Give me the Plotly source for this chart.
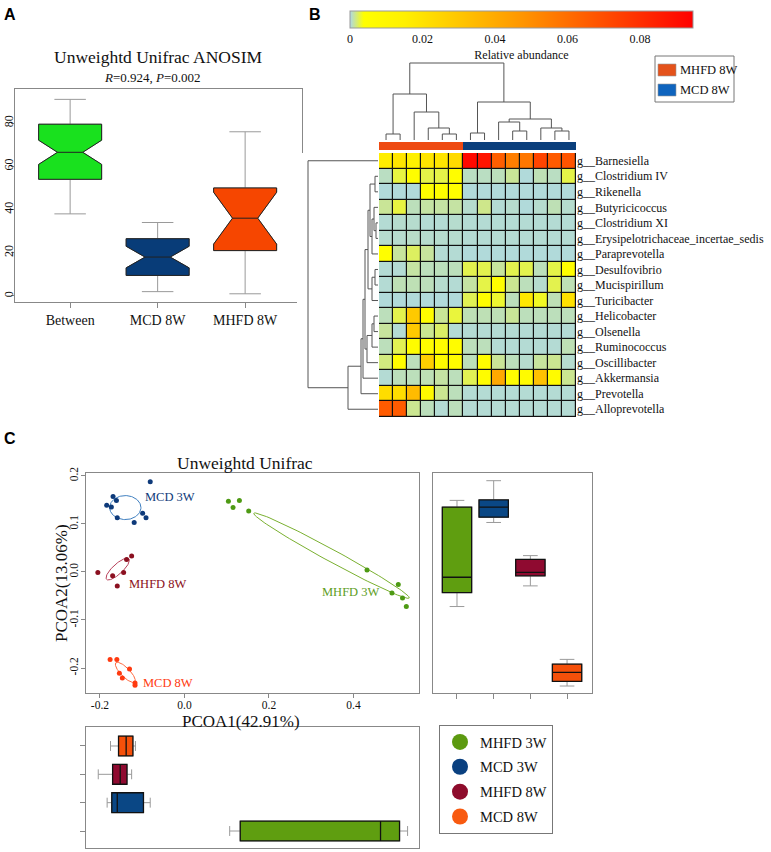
import numpy as np
import plotly.graph_objects as go

W, H = 771, 852
SERIF = "Liberation Serif"
SANS = "Liberation Sans"


def fx(px):
    return px / W


def fy(py):
    return 1 - py / H


# ---------------- Panel A data ----------------
anosim_groups = ["Between", "MCD 8W", "MHFD 8W"]
anosim_low = [38, 2, 1]
anosim_q1 = [54, 9.5, 21]
anosim_med = [66.5, 18, 36]
anosim_q3 = [79.5, 26.5, 50]
anosim_high = [91, 34, 76]
anosim_notch = [5.6, 5.0, 12.0]
anosim_colors = ["#19E11E", "#083C78", "#F64600"]

# ---------------- Panel B data ----------------
genera = ["g__Barnesiella", "g__Clostridium IV", "g__Rikenella", "g__Butyricicoccus",
          "g__Clostridium XI", "g__Erysipelotrichaceae_incertae_sedis", "g__Paraprevotella",
          "g__Desulfovibrio", "g__Mucispirillum", "g__Turicibacter", "g__Helicobacter",
          "g__Olsenella", "g__Ruminococcus", "g__Oscillibacter", "g__Akkermansia",
          "g__Prevotella", "g__Alloprevotella"]
sample_groups = ["MHFD 8W"] * 6 + ["MCD 8W"] * 8
heat_legend = ["MHFD 8W", "MCD 8W"]
barnesiella = [0.016, 0.019, 0.015, 0.019, 0.019, 0.023, 0.092, 0.088, 0.065, 0.055, 0.057, 0.073, 0.066, 0.068]
clostridium_iv = [0.0006, 0.0027, 0.005, 0.0026, 0.0026, 0.005, 0.0006, 0.0006, 0.0007, 0.0013, 0.0002, 0.0008, 0.0006, 0.0026]
rikenella = [0.0002, 0.0002, 0.0002, 0.005, 0.005, 0.005, 0.0002, 0.0002, 0.0002, 0.0002, 0.0002, 0.0002, 0.0002, 0.0002]
butyricicoccus = [0.0013, 0.0027, 0.0007, 0.0011, 0.0011, 0.0011, 0.0004, 0.0015, 0.0003, 0.0004, 0.0002, 0.0004, 0.0008, 0.0004]
clostridium_xi = [0.0003, 0.0004, 0.0004, 0.0003, 0.0003, 0.0004, 0.0003, 0.0003, 0.0003, 0.0003, 0.0003, 0.0003, 0.0003, 0.0003]
erysipelo = [0.0004, 0.0004, 0.0005, 0.0004, 0.0004, 0.0004, 0.0003, 0.0003, 0.0003, 0.0003, 0.0003, 0.0003, 0.0003, 0.0003]
paraprevotella = [0.0045, 0.0012, 0.0022, 0.0012, 0.0003, 0.0003, 0.0002, 0.0002, 0.0002, 0.0002, 0.0002, 0.0002, 0.0002, 0.0002]
desulfovibrio = [0.0003, 0.0003, 0.0011, 0.0007, 0.0007, 0.0007, 0.0025, 0.0025, 0.0012, 0.0025, 0.0025, 0.0007, 0.0026, 0.005]
mucispirillum = [0.0003, 0.0008, 0.0008, 0.0007, 0.0004, 0.0003, 0.0011, 0.0026, 0.005, 0.0014, 0.0007, 0.0004, 0.0025, 0.0008]
turicibacter = [0.0002, 0.0002, 0.0002, 0.0002, 0.0002, 0.0002, 0.0024, 0.005, 0.003, 0.0007, 0.018, 0.0032, 0.0008, 0.02]
helicobacter = [0.0007, 0.0025, 0.029, 0.006, 0.0013, 0.0028, 0.0008, 0.0008, 0.0008, 0.0013, 0.0007, 0.0007, 0.0007, 0.0007]
olsenella = [0.0012, 0.0003, 0.029, 0.0014, 0.0021, 0.0003, 0.0003, 0.0003, 0.0003, 0.0003, 0.0003, 0.0003, 0.0003, 0.0003]
ruminococcus = [0.0007, 0.0024, 0.006, 0.006, 0.006, 0.006, 0.0007, 0.0007, 0.0003, 0.0003, 0.0003, 0.0003, 0.0003, 0.0008]
oscillibacter = [0.0017, 0.006, 0.0007, 0.027, 0.006, 0.006, 0.0007, 0.006, 0.0013, 0.0007, 0.0004, 0.0012, 0.0014, 0.0004]
akkermansia = [0.0003, 0.0007, 0.0007, 0.0008, 0.0011, 0.0007, 0.0024, 0.006, 0.041, 0.006, 0.007, 0.032, 0.007, 0.0014]
prevotella = [0.022, 0.022, 0.034, 0.008, 0.0014, 0.0007, 0.0003, 0.0003, 0.0003, 0.0003, 0.0003, 0.0003, 0.0003, 0.0003]
alloprevotella = [0.066, 0.066, 0.0014, 0.0007, 0.0003, 0.0007, 0.0003, 0.0003, 0.0003, 0.0003, 0.0003, 0.0003, 0.0003, 0.0003]
abundance = [barnesiella, clostridium_iv, rikenella, butyricicoccus, clostridium_xi, erysipelo,
             paraprevotella, desulfovibrio, mucispirillum, turicibacter, helicobacter, olsenella,
             ruminococcus, oscillibacter, akkermansia, prevotella, alloprevotella]

# dendrogram merges: (child a, child b, height)
col_merges = [(0, 1, 6), (4, 5, 6), (3, 15, 12), (2, 16, 28), (14, 17, 46),
              (6, 7, 7), (9, 10, 9), (8, 20, 18), (12, 13, 9), (11, 22, 12),
              (21, 23, 21), (19, 24, 38), (18, 25, 77)]
row_merges = [(1, 2, 3), (4, 5, 2), (3, 18, 4), (19, 6, 6), (17, 20, 8),
              (7, 8, 3), (22, 9, 6), (21, 23, 10), (10, 11, 4), (25, 12, 6),
              (26, 13, 11), (24, 27, 13), (28, 14, 15), (29, 15, 17), (30, 16, 30),
              (0, 31, 70)]

# ---------------- Panel C data ----------------
pcoa_groups = ["MHFD 3W", "MCD 3W", "MHFD 8W", "MCD 8W"]
pc1_mhfd3 = [0.104, 0.115, 0.130, 0.152, 0.432, 0.506, 0.491, 0.516, 0.525]
pc2_mhfd3 = [0.147, 0.134, 0.149, 0.127, 0.004, -0.026, -0.044, -0.054, -0.072]
pc1_mcd3 = [-0.081, -0.169, -0.161, -0.184, -0.173, -0.159, -0.119, -0.099, -0.091]
pc2_mcd3 = [0.188, 0.157, 0.149, 0.139, 0.135, 0.113, 0.103, 0.122, 0.113]
pc1_mhfd8 = [-0.205, -0.170, -0.144, -0.137, -0.125, -0.159]
pc2_mhfd8 = [-0.001, -0.008, -0.001, 0.026, 0.033, -0.029]
pc1_mcd8 = [-0.176, -0.160, -0.154, -0.130, -0.147, -0.117, -0.117]
pc2_mcd8 = [-0.182, -0.182, -0.211, -0.202, -0.221, -0.231, -0.236]
# confidence ellipses: center x, center y, semi-axis a, semi-axis b, angle (deg)
ell_mhfd3 = [0.348, 0.034, 0.204, 0.013, -25.6]
ell_mcd3 = [-0.140, 0.134, 0.037, 0.025, 0]
ell_mhfd8 = [-0.158, 0.006, 0.034, 0.011, 38]
ell_mcd8 = [-0.140, -0.209, 0.030, 0.010, -41]

pc2_low = [-0.072, 0.103, -0.029, -0.2375]
pc2_q1 = [-0.043, 0.114, -0.008, -0.228]
pc2_med = [-0.011, 0.135, -0.001, -0.209]
pc2_q3 = [0.135, 0.150, 0.026, -0.192]
pc2_high = [0.149, 0.190, 0.034, -0.182]

pc1_low = [0.107, -0.183, -0.204, -0.175]
pc1_q1 = [0.132, -0.172, -0.170, -0.156]
pc1_med = [0.464, -0.159, -0.152, -0.138]
pc1_q3 = [0.509, -0.097, -0.136, -0.122]
pc1_high = [0.528, -0.081, -0.125, -0.116]

point_colors = ["#4E9A14", "#0E3A7A", "#8B1020", "#FF3A10"]
ellipse_colors = ["#7AB030", "#3F7FC0", "#B8405A", "#FF6A40"]
box_colors = ["#5F9E10", "#0A4785", "#8F0A30", "#F5500A"]

fig = go.Figure()

# ---------- Panel A boxes ----------
for i, g in enumerate(anosim_groups):
    common = dict(x=[g], q1=[anosim_q1[i]], median=[anosim_med[i]], q3=[anosim_q3[i]],
                  notched=True, notchspan=[anosim_notch[i]], notchwidth=0.3, width=0.72,
                  fillcolor=anosim_colors[i], boxpoints=False, showlegend=False,
                  hoverinfo="skip", xaxis="x", yaxis="y")
    fig.add_trace(go.Box(lowerfence=[anosim_low[i]], upperfence=[anosim_high[i]],
                         line=dict(color="#9A9A9A", width=1), whiskerwidth=0.5, **common))
    fig.add_trace(go.Box(lowerfence=[anosim_q1[i]], upperfence=[anosim_q3[i]],
                         line=dict(color="#222222", width=1), whiskerwidth=0, **common))

# ---------- Panel B heatmap ----------
n_samp = len(sample_groups)
fig.add_shape(type="rect", xref="x2 domain", yref="y2 domain", x0=0, x1=1, y0=0, y1=1,
              fillcolor="#111111", line=dict(width=0), layer="below")
fig.add_trace(go.Heatmap(
    z=abundance, x=list(range(n_samp)), y=list(range(len(genera))),
    zmin=0, zmax=0.0946, xgap=1.2, ygap=1.2,
    colorscale=[[0.0, "rgb(173,216,230)"], [0.04, "rgb(255,255,0)"], [0.16, "rgb(255,240,0)"],
                [0.5, "rgb(255,150,0)"], [1.0, "rgb(255,0,0)"]],
    colorbar=dict(orientation="h", x=fx(521.5), xanchor="center", y=fy(11), yanchor="top",
                  len=343, lenmode="pixels", thickness=17, thicknessmode="pixels",
                  tickvals=[0, 0.02, 0.04, 0.06, 0.08], ticktext=["0", "0.02", "0.04", "0.06", "0.08"],
                  tickfont=dict(family=SERIF, size=12, color="#111"), ticks="",
                  title=dict(text="Relative abundance", side="bottom",
                             font=dict(family=SERIF, size=12, color="#111")),
                  outlinewidth=1, outlinecolor="#999", xpad=0, ypad=0),
    hoverinfo="skip", xaxis="x2", yaxis="y2"))

group_code = [0 if g == "MHFD 8W" else 1 for g in sample_groups]
fig.add_trace(go.Heatmap(
    z=[group_code], x=list(range(n_samp)), y=[0], zmin=0, zmax=1,
    colorscale=[[0, "#EE4A12"], [0.5, "#EE4A12"], [0.5, "#0B3F7C"], [1, "#0B3F7C"]],
    showscale=False, hoverinfo="skip", xaxis="x3", yaxis="y3"))


def dendro(merges, n):
    pos = list(range(n))
    hgt = [0] * n
    ps, hs = [], []
    for a, b, h in merges:
        ps += [pos[a], pos[a], pos[b], pos[b], None]
        hs += [hgt[a], h, h, hgt[b], None]
        pos.append((pos[a] + pos[b]) / 2)
        hgt.append(h)
    return ps, hs


cp, ch = dendro(col_merges, n_samp)
fig.add_trace(go.Scatter(x=cp, y=ch, mode="lines", line=dict(color="#555", width=1),
                         showlegend=False, hoverinfo="skip", xaxis="x4", yaxis="y4"))
rp, rh = dendro(row_merges, len(genera))
fig.add_trace(go.Scatter(x=rh, y=rp, mode="lines", line=dict(color="#555", width=1),
                         showlegend=False, hoverinfo="skip", xaxis="x5", yaxis="y5"))

# ---------- Panel C scatter ----------
pc1_sets = [pc1_mhfd3, pc1_mcd3, pc1_mhfd8, pc1_mcd8]
pc2_sets = [pc2_mhfd3, pc2_mcd3, pc2_mhfd8, pc2_mcd8]
ells = [ell_mhfd3, ell_mcd3, ell_mhfd8, ell_mcd8]
t = np.linspace(0, 2 * np.pi, 120)
for i, g in enumerate(pcoa_groups):
    cx, cy, a, b, ang = ells[i]
    th = np.deg2rad(ang)
    ex = cx + a * np.cos(t) * np.cos(th) - b * np.sin(t) * np.sin(th)
    ey = cy + a * np.cos(t) * np.sin(th) + b * np.sin(t) * np.cos(th)
    fig.add_trace(go.Scatter(x=ex, y=ey, mode="lines", line=dict(color=ellipse_colors[i], width=1),
                             showlegend=False, hoverinfo="skip", xaxis="x6", yaxis="y6"))
    fig.add_trace(go.Scatter(x=pc1_sets[i], y=pc2_sets[i], mode="markers",
                             marker=dict(size=5, color=point_colors[i]),
                             showlegend=False, hoverinfo="skip", xaxis="x6", yaxis="y6"))

# right boxes (PCOA2)
for i, g in enumerate(pcoa_groups):
    common = dict(x=[g], q1=[pc2_q1[i]], median=[pc2_med[i]], q3=[pc2_q3[i]], width=0.8,
                  fillcolor=box_colors[i], boxpoints=False, showlegend=False, hoverinfo="skip",
                  xaxis="x7", yaxis="y7")
    fig.add_trace(go.Box(lowerfence=[pc2_low[i]], upperfence=[pc2_high[i]],
                         line=dict(color="#9A9A9A", width=1), whiskerwidth=0.5, **common))
    fig.add_trace(go.Box(lowerfence=[pc2_q1[i]], upperfence=[pc2_q3[i]],
                         line=dict(color="#111", width=1.3), whiskerwidth=0, **common))

# bottom boxes (PCOA1)
for i, g in enumerate(pcoa_groups):
    common = dict(y=[g], q1=[pc1_q1[i]], median=[pc1_med[i]], q3=[pc1_q3[i]], width=0.7,
                  orientation="h", fillcolor=box_colors[i], boxpoints=False, showlegend=False,
                  hoverinfo="skip", xaxis="x8", yaxis="y8")
    fig.add_trace(go.Box(lowerfence=[pc1_low[i]], upperfence=[pc1_high[i]],
                         line=dict(color="#9A9A9A", width=1), whiskerwidth=0.5, **common))
    fig.add_trace(go.Box(lowerfence=[pc1_q1[i]], upperfence=[pc1_q3[i]],
                         line=dict(color="#111", width=1.3), whiskerwidth=0, **common))

# legend for panel C
legend_colors = ["#5C9A10", "#0A4080", "#8E0C2C", "#F85A10"]
for g, c in zip(pcoa_groups, legend_colors):
    fig.add_trace(go.Scatter(x=[None], y=[None], mode="markers", name=g, legendgroup=g,
                             marker=dict(size=18, color=c), legend="legend",
                             xaxis="x6", yaxis="y6"))

# ---------------- Layout ----------------
tickfont_a = dict(family=SERIF, size=14, color="#111")
tickfont_c = dict(family=SERIF, size=11.5, color="#111")
frame = dict(showline=True, mirror=True, linecolor="#888", linewidth=1, showgrid=False,
             zeroline=False)
hidden = dict(visible=False, showgrid=False, zeroline=False)

layout = dict(
    width=W, height=H, margin=dict(l=0, r=0, t=0, b=0, pad=0, autoexpand=False),
    paper_bgcolor="white", plot_bgcolor="white", boxmode="overlay",
    xaxis=dict(domain=[fx(15), fx(302)], anchor="y", type="category",
               categoryorder="array", categoryarray=anosim_groups, range=[-0.63, 2.65],
               ticks="outside", ticklen=5, tickcolor="#888", tickfont=tickfont_a, **frame),
    yaxis=dict(domain=[fy(302), fy(89)], anchor="x", range=[-2.8, 95.8],
               tickvals=[0, 20, 40, 60, 80], tickangle=-90, ticks="outside", ticklen=3,
               ticklabelstandoff=-7,
               tickcolor="#888", tickfont=dict(family=SERIF, size=12, color="#111"), **frame),
    xaxis2=dict(domain=[fx(379), fx(576)], anchor="y2", range=[-0.5, n_samp - 0.5], **hidden),
    yaxis2=dict(domain=[fy(417), fy(153)], anchor="x2", range=[len(genera) - 0.5, -0.5],
                side="right", tickvals=list(range(len(genera))), ticktext=genera, ticks="",
                showgrid=False, zeroline=False, showline=False,
                tickfont=dict(family=SERIF, size=12, color="#111")),
    xaxis3=dict(domain=[fx(379), fx(576)], anchor="y3", range=[-0.5, n_samp - 0.5], **hidden),
    yaxis3=dict(domain=[fy(150), fy(142)], anchor="x3", range=[-0.5, 0.5], **hidden),
    xaxis4=dict(domain=[fx(379), fx(576)], anchor="y4", range=[-0.5, n_samp - 0.5], **hidden),
    yaxis4=dict(domain=[fy(140), fy(62)], anchor="x4", range=[0, 78], **hidden),
    xaxis5=dict(domain=[fx(297), fx(378)], anchor="y5", range=[81, 0], **hidden),
    yaxis5=dict(domain=[fy(417), fy(153)], anchor="x5", range=[len(genera) - 0.5, -0.5], **hidden),
    xaxis6=dict(domain=[fx(86), fx(419)], anchor="y6", range=[-0.233, 0.555],
                tickvals=[-0.2, 0.0, 0.2, 0.4], ticktext=["-0.2", "0.0", "0.2", "0.4"],
                ticks="outside", ticklen=4, ticklabelstandoff=-3, tickcolor="#888",
                tickfont=tickfont_c, **frame),
    yaxis6=dict(domain=[fy(693), fy(473)], anchor="x6", range=[-0.252, 0.206],
                tickvals=[-0.2, -0.1, 0.0, 0.1, 0.2], ticktext=["-0.2", "-0.1", "0.0", "0.1", "0.2"],
                tickangle=-90, ticks="outside", ticklen=4, ticklabelstandoff=-2, tickcolor="#888",
                tickfont=tickfont_c, **frame),
    xaxis7=dict(domain=[fx(433), fx(592)], anchor="y7", type="category", categoryorder="array",
                categoryarray=pcoa_groups, range=[-0.654, 3.68], showticklabels=False,
                ticks="outside", ticklen=5, tickcolor="#888", **frame),
    yaxis7=dict(domain=[fy(693), fy(473)], anchor="x7", range=[-0.252, 0.206],
                showticklabels=False, ticks="", **frame),
    xaxis8=dict(domain=[fx(86), fx(419)], anchor="y8", range=[-0.233, 0.555],
                showticklabels=False, ticks="", **frame),
    yaxis8=dict(domain=[fy(848), fy(727)], anchor="x8", type="category", categoryorder="array",
                categoryarray=pcoa_groups, range=[-0.6, 3.67], showticklabels=False,
                ticks="outside", ticklen=5, tickcolor="#888", **frame),
    legend=dict(x=fx(439), y=fy(725), xanchor="left", yanchor="top", bordercolor="#777",
                borderwidth=1, bgcolor="white", font=dict(family=SERIF, size=14.5, color="#111"),
                traceorder="grouped", tracegroupgap=3, itemwidth=30),
    showlegend=True,
)
fig.update_layout(**layout)


def ann(text, x, y, size, family=SERIF, color="#111", xanchor="center", yanchor="middle",
        textangle=0, xref="paper", yref="paper"):
    fig.add_annotation(text=text, x=x, y=y, xref=xref, yref=yref, showarrow=False,
                       font=dict(family=family, size=size, color=color),
                       xanchor=xanchor, yanchor=yanchor, textangle=textangle)


# heatmap group key (box, swatches, labels)
fig.add_shape(type="rect", xref="paper", yref="paper", x0=fx(655), x1=fx(734), y0=fy(102), y1=fy(56),
              line=dict(color="#777", width=1), fillcolor="white")
for k, (g, c) in enumerate(zip(heat_legend, ["#E4521B", "#0F64BE"])):
    yc = 70 + 20 * k
    fig.add_shape(type="rect", xref="paper", yref="paper", x0=fx(658), x1=fx(676),
                  y0=fy(yc + 6), y1=fy(yc - 6), line=dict(color="#999", width=0.6), fillcolor=c)
    ann(g, fx(678), fy(yc), 12.5, xanchor="left")

ann("<b>A</b>", fx(2), fy(15), 16, family=SANS, color="#000", xanchor="left")
ann("<b>B</b>", fx(307), fy(15), 16, family=SANS, color="#000", xanchor="left")
ann("<b>C</b>", fx(2), fy(438), 16, family=SANS, color="#000", xanchor="left")
ann("Unweightd Unifrac ANOSIM", fx(158), fy(57), 17.5)
ann("<i>R</i>=0.924, <i>P</i>=0.002", fx(152), fy(78), 13)
ann("Unweightd Unifrac", fx(245), fy(463), 17.5)
ann("PCOA1(42.91%)", fx(241), fy(721), 17)
ann("PCOA2(13.06%)", fx(61), fy(583), 17, textangle=-90)

# scatter group labels
ann("MCD 3W", -0.099, 0.156, 12.5, color=point_colors[1], xanchor="left", xref="x6", yref="y6")
ann("MHFD 8W", -0.135, -0.025, 12.5, color=point_colors[2], xanchor="left", xref="x6", yref="y6")
ann("MHFD 3W", 0.32, -0.042, 12.5, color="#5E9E1E", xanchor="left", xref="x6", yref="y6")
ann("MCD 8W", -0.104, -0.231, 12.5, color=point_colors[3], xanchor="left", xref="x6", yref="y6")

fig.write_html("out.html", config={"displayModeBar": False},
               post_script="document.body.style.margin='0px';document.body.style.padding='0px';")
